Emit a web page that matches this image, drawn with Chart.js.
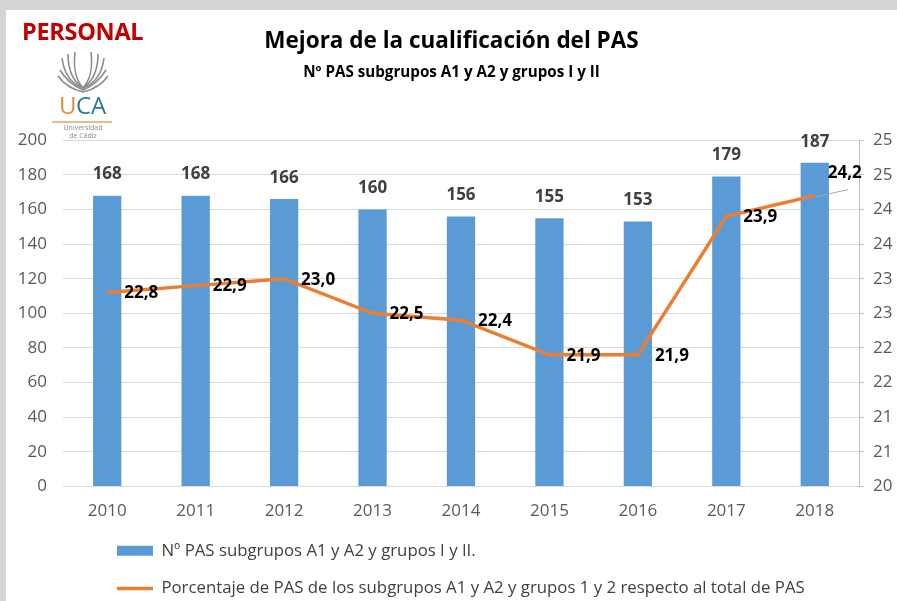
<!DOCTYPE html>
<html>
<head>
<meta charset="utf-8">
<script src="https://cdn.jsdelivr.net/npm/chart.js@4/dist/chart.umd.min.js"></script>
<style>
  html, body { margin: 0; padding: 0; }
  body { width: 897px; height: 601px; background: #d4d4d4; position: relative; overflow: hidden; font-family: "Open Sans", sans-serif; }
  #frame { position: absolute; left: 6px; top: 10px; width: 891px; height: 591px; background: #fff; }
  #frame canvas { position: absolute; left: 0; top: 0; }
  #personal { position: absolute; left: 16px; top: 5px; color: #c00000; font: bold 23.5px "Open Sans", sans-serif; letter-spacing: -0.3px; }
  #logo { position: absolute; left: 42px; top: 34px; width: 70px; height: 96px; }
</style>
</head>
<body>
<div id="frame">
  <canvas id="pas-chart"></canvas>
  <div id="personal">PERSONAL</div>
  <svg id="logo" viewBox="0 0 70 96">
    <g fill="none" stroke="#8c8c8c" stroke-width="1.6">
      <path d="M35 44 C24 40 16 30 14 14"/>
      <path d="M35 44 C26 38 20 28 20 10"/>
      <path d="M35 44 C28 36 25 26 27 8"/>
      <path d="M35 44 C46 40 54 30 56 14"/>
      <path d="M35 44 C44 38 50 28 50 10"/>
      <path d="M35 44 C42 36 45 26 43 8"/>
      <path d="M12 26 C18 36 26 42 35 46 C44 42 52 36 58 26"/>
      <path d="M10 32 C17 42 26 46 35 48 C44 46 53 42 60 32"/>
    </g>
    <text x="11" y="70" font-family="Open Sans" font-size="24" fill="#e38b3c">U</text>
    <text x="28" y="70" font-family="Open Sans" font-size="24" fill="#2b7d93">CA</text>
    <line x1="4" y1="78" x2="64" y2="78" stroke="#e9a460" stroke-width="1.4"/>
    <text x="35" y="86" text-anchor="middle" font-family="Open Sans" font-size="7" fill="#8c8c8c">Universidad</text>
    <text x="35" y="94" text-anchor="middle" font-family="Open Sans" font-size="7" fill="#8c8c8c">de Cádiz</text>
  </svg>
</div>
<script>
// chart values
const years = ["2010", "2011", "2012", "2013", "2014", "2015", "2016", "2017", "2018"];
const numPAS = [168, 168, 166, 160, 156, 155, 153, 179, 187];
const pctPAS = [22.8, 22.9, 23.0, 22.5, 22.4, 21.9, 21.9, 23.9, 24.2];
const leftTicks = [0, 20, 40, 60, 80, 100, 120, 140, 160, 180, 200];
const rightTicks = [20, 20.5, 21, 21.5, 22, 22.5, 23, 23.5, 24, 24.5, 25];
const rightTickLabels = ["20", "21", "21", "22", "22", "23", "23", "24", "24", "25", "25"];

const barLabel = "Nº PAS subgrupos A1 y A2 y grupos I y II.";
const lineLabel = "Porcentaje de PAS de los subgrupos A1 y A2 y grupos 1 y 2 respecto al total de PAS";

const fmt = v => v.toFixed(1).replace(".", ",");

// value labels above the bars and right of the line points
const valueLabels = {
    id: "valueLabels",
    afterDatasetsDraw(chart) {
        const ctx = chart.ctx;
        ctx.save();
        ctx.textBaseline = "middle";

        const bars = chart.getDatasetMeta(0).data;
        ctx.font = "bold 17px 'Open Sans'";
        ctx.fillStyle = "#404040";
        ctx.textAlign = "center";
        bars.forEach((bar, i) => {
            ctx.fillText(String(numPAS[i]), bar.x, bar.y - 21);
        });

        const pts = chart.getDatasetMeta(1).data;
        ctx.fillStyle = "#000";
        ctx.textAlign = "left";
        pts.forEach((pt, i) => {
            if (i === pts.length - 1) {
                ctx.strokeStyle = "#a6a6a6";
                ctx.lineWidth = 1;
                ctx.beginPath();
                ctx.moveTo(pt.x + 2, pt.y + 1);
                ctx.lineTo(pt.x + 33, pt.y - 6);
                ctx.stroke();
                ctx.fillText(fmt(pctPAS[i]), pt.x + 13, pt.y - 22);
            } else {
                ctx.fillText(fmt(pctPAS[i]), pt.x + 17, pt.y + 1);
            }
        });
        ctx.restore();
    }
};

// legend sits left-aligned under the plot
const legendShift = {
    id: "legendShift",
    afterLayout(chart) {
        chart.legend.left = 90;
    }
};

const ctx = document.getElementById("pas-chart");
new Chart(ctx, {
    data: {
        labels: years,
        datasets: [{
            type: "bar",
            label: barLabel,
            data: numPAS,
            backgroundColor: "#5b9bd5",
            borderWidth: 0,
            yAxisID: "y",
            order: 2,
            pointStyle: "rect"
        }, {
            type: "line",
            label: lineLabel,
            data: pctPAS,
            borderColor: "#ed7d31",
            backgroundColor: "#ed7d31",
            borderWidth: 3.5,
            pointRadius: 0,
            tension: 0,
            yAxisID: "y1",
            order: 1,
            pointStyle: "line"
        }]
    },
    options: {
        responsive: true,
        maintainAspectRatio: false,
        animation: false,
        datasets: {
            bar: {barPercentage: 0.8, categoryPercentage: 0.4}
        },
        layout: {padding: {left: 0, right: 0, top: 0, bottom: -6}},
        plugins: {
            title: {
                display: true,
                text: "Mejora de la cualificación del PAS",
                color: "#000",
                font: {family: "Open Sans", size: 22.5, weight: "bold"},
                padding: {top: 18, bottom: 9}
            },
            subtitle: {
                display: true,
                text: "Nº PAS subgrupos A1 y A2 y grupos I y II",
                color: "#000",
                font: {family: "Open Sans", size: 15.2, weight: "bold"},
                padding: {top: 0, bottom: 58}
            },
            legend: {
                position: "bottom",
                align: "start",
                labels: {
                    usePointStyle: true,
                    pointStyleWidth: 36,
                    boxHeight: 10,
                    padding: 21,
                    color: "#404040",
                    font: {family: "Open Sans", size: 16.8},
                    sort: (a, b) => a.datasetIndex - b.datasetIndex
                }
            },
            tooltip: {enabled: false}
        },
        scales: {
            x: {
                grid: {display: false, drawTicks: false},
                border: {display: false},
                ticks: {color: "#595959", font: {family: "Open Sans", size: 17}, padding: 15},
                afterFit(scale) { scale.height = 35; }
            },
            y: {
                position: "left",
                min: 0,
                max: 200,
                afterBuildTicks(axis) { axis.ticks = leftTicks.map(v => ({value: v})); },
                grid: {color: "#d9d9d9", drawTicks: false},
                border: {display: false},
                ticks: {color: "#595959", font: {family: "Open Sans", size: 17}, padding: 16},
                afterFit(scale) { scale.width = 57; }
            },
            y1: {
                position: "right",
                min: 20,
                max: 25,
                afterBuildTicks(axis) { axis.ticks = rightTicks.map(v => ({value: v})); },
                grid: {drawOnChartArea: false, color: "#bfbfbf", tickLength: 5},
                border: {display: true, color: "#bfbfbf"},
                ticks: {
                    color: "#595959",
                    font: {family: "Open Sans", size: 17},
                    padding: 9,
                    callback: (v, i) => rightTickLabels[i]
                },
                afterFit(scale) { scale.width = 38; }
            }
        }
    },
    plugins: [valueLabels, legendShift]
});
</script>
</body>
</html>
